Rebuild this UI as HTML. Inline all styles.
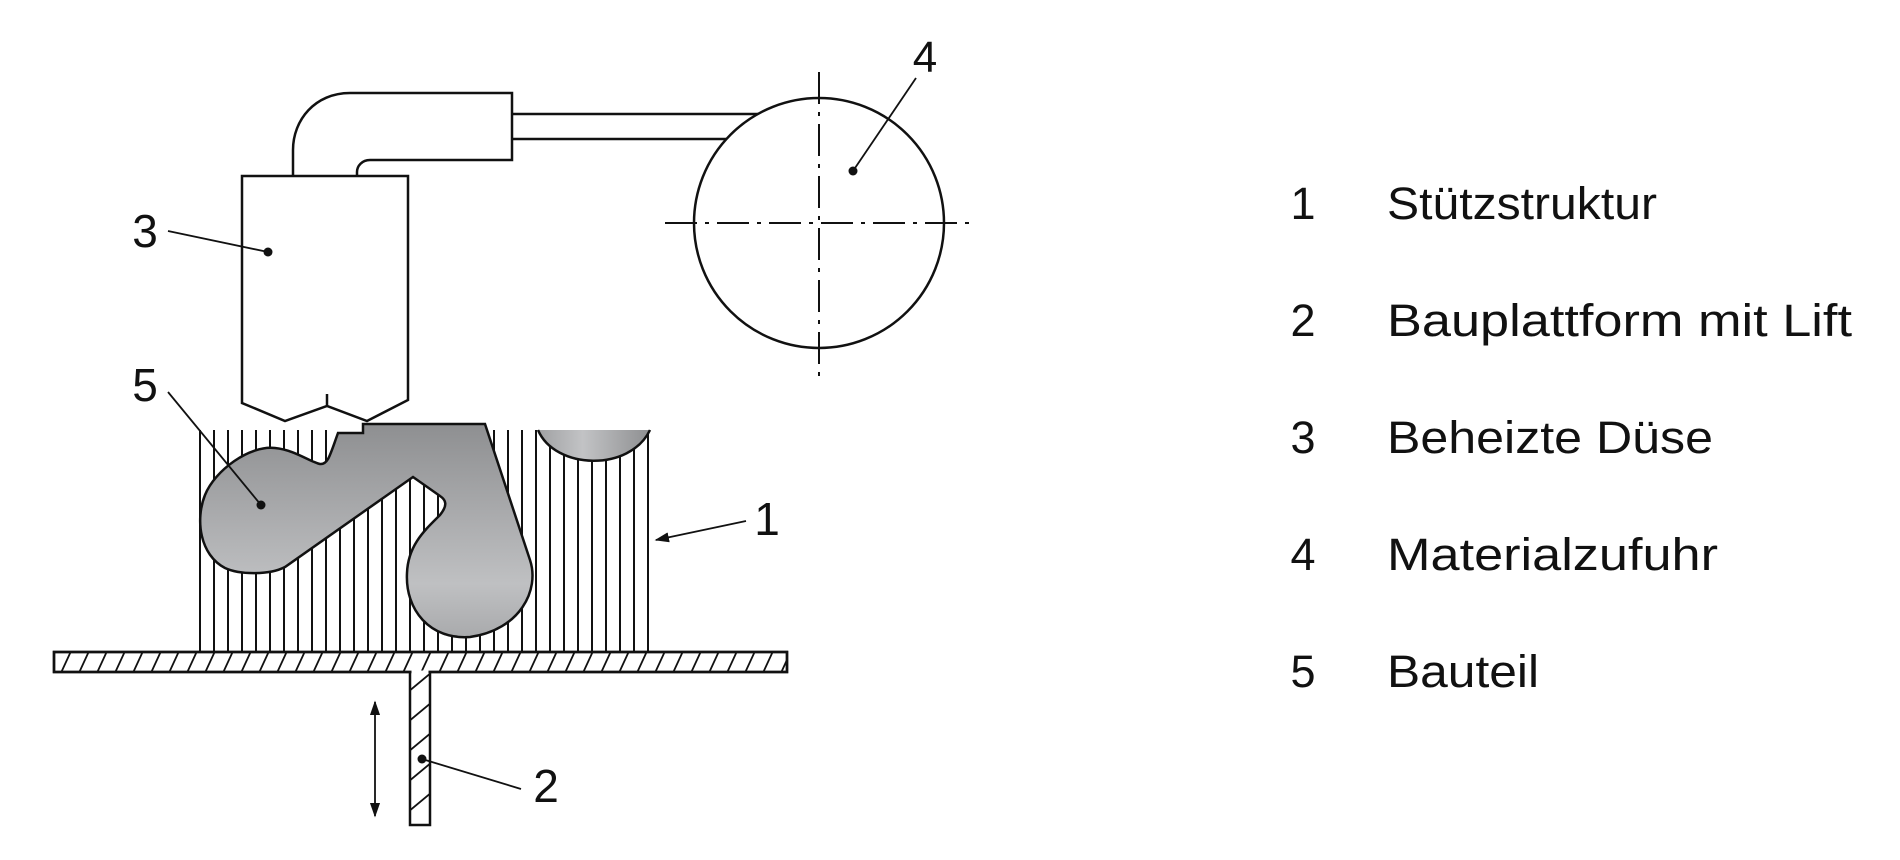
<!DOCTYPE html>
<html><head><meta charset="utf-8"><style>
html,body{margin:0;padding:0;background:#fff;}
svg{display:block;}
text{font-family:"Liberation Sans",sans-serif;fill:#111;}
</style></head><body>
<svg width="1900" height="860" viewBox="0 0 1900 860" xmlns="http://www.w3.org/2000/svg">
<defs>
<linearGradient id="g" x1="0" y1="0" x2="0" y2="1">
<stop offset="0" stop-color="#8e8f91"/><stop offset="0.75" stop-color="#bfc0c2"/><stop offset="1" stop-color="#a9aaac"/>
</linearGradient>
<linearGradient id="g2" x1="0" y1="0" x2="1" y2="0">
<stop offset="0" stop-color="#a0a1a3"/><stop offset="0.4" stop-color="#c2c3c5"/><stop offset="1" stop-color="#8e8f91"/>
</linearGradient>
<clipPath id="pc"><rect x="54" y="652" width="733" height="20"/></clipPath>
<clipPath id="sc"><rect x="410" y="672" width="20" height="153"/></clipPath>
<marker id="ah" viewBox="0 0 10 10" refX="9" refY="5" markerWidth="8" markerHeight="8" orient="auto-start-reverse"><path d="M0,1.5 L10,5 L0,8.5 Z" fill="#111"/></marker>
</defs>
<g stroke="#111" stroke-width="2.5" fill="none">
<g id="bars" stroke-width="2">
<line x1="200" y1="430" x2="200" y2="652"/><line x1="214" y1="430" x2="214" y2="652"/><line x1="228" y1="430" x2="228" y2="652"/><line x1="242" y1="430" x2="242" y2="652"/><line x1="256" y1="430" x2="256" y2="652"/><line x1="270" y1="430" x2="270" y2="652"/><line x1="284" y1="430" x2="284" y2="652"/><line x1="298" y1="430" x2="298" y2="652"/><line x1="312" y1="430" x2="312" y2="652"/><line x1="326" y1="430" x2="326" y2="652"/><line x1="340" y1="430" x2="340" y2="652"/><line x1="354" y1="430" x2="354" y2="652"/><line x1="368" y1="430" x2="368" y2="652"/><line x1="382" y1="430" x2="382" y2="652"/><line x1="396" y1="430" x2="396" y2="652"/><line x1="410" y1="430" x2="410" y2="652"/><line x1="424" y1="430" x2="424" y2="652"/><line x1="438" y1="430" x2="438" y2="652"/><line x1="452" y1="430" x2="452" y2="652"/><line x1="466" y1="430" x2="466" y2="652"/><line x1="480" y1="430" x2="480" y2="652"/><line x1="494" y1="430" x2="494" y2="652"/><line x1="508" y1="430" x2="508" y2="652"/><line x1="522" y1="430" x2="522" y2="652"/><line x1="536" y1="430" x2="536" y2="652"/><line x1="550" y1="430" x2="550" y2="652"/><line x1="564" y1="430" x2="564" y2="652"/><line x1="578" y1="430" x2="578" y2="652"/><line x1="592" y1="430" x2="592" y2="652"/><line x1="606" y1="430" x2="606" y2="652"/><line x1="620" y1="430" x2="620" y2="652"/><line x1="634" y1="430" x2="634" y2="652"/><line x1="648" y1="430" x2="648" y2="652"/>
</g>
<rect x="331" y="420" width="33" height="13" fill="#fff" stroke="none"/>
<path d="M338,433 L363,433 L363,424 L485,424 L530,560 C540,590 520,630 470,637 C430,640 405,610 407,573 C408,545 425,530 440,515 C448,505 446,500 440,496 L413,477 L285,567 C270,575 240,575 225,568 C200,555 195,520 205,495 C215,470 250,445 275,448 C295,450 310,462 320,464 C328,465 330,455 338,433 Z" fill="url(#g)"/>
<path d="M538,430 C555,470 630,472 650,430 Z" fill="url(#g2)" stroke="none"/>
<path d="M538,430 C555,470 630,472 650,430"/>
<rect x="54" y="652" width="733" height="20" fill="#fff"/>
<g clip-path="url(#pc)" stroke-width="1.8">
<path d="M60,675 L72,649 M78,675 L90,649 M96,675 L108,649 M114,675 L126,649 M132,675 L144,649 M150,675 L162,649 M168,675 L180,649 M186,675 L198,649 M204,675 L216,649 M222,675 L234,649 M240,675 L252,649 M258,675 L270,649 M276,675 L288,649 M294,675 L306,649 M312,675 L324,649 M330,675 L342,649 M348,675 L360,649 M366,675 L378,649 M384,675 L396,649 M402,675 L414,649 M420,675 L432,649 M438,675 L450,649 M456,675 L468,649 M474,675 L486,649 M492,675 L504,649 M510,675 L522,649 M528,675 L540,649 M546,675 L558,649 M564,675 L576,649 M582,675 L594,649 M600,675 L612,649 M618,675 L630,649 M636,675 L648,649 M654,675 L666,649 M672,675 L684,649 M690,675 L702,649 M708,675 L720,649 M726,675 L738,649 M744,675 L756,649 M762,675 L774,649 M780,675 L792,649"/>
</g>
<path d="M410,672 L410,825 L430,825 L430,672" fill="#fff"/>
<rect x="54" y="652" width="733" height="20"/>
<line x1="411.5" y1="672" x2="428.5" y2="672" stroke="#fff" stroke-width="3"/>
<g clip-path="url(#sc)" stroke-width="1.8">
<path d="M408,692 L432,672 M408,722 L432,702 M408,752 L432,732 M408,782 L432,762 M408,812 L432,792"/>
</g>
<line x1="375" y1="702" x2="375" y2="816" marker-start="url(#ah)" marker-end="url(#ah)" stroke-width="1.8"/>
<path d="M242,176 L408,176 L408,400 L367,421 L327,406 L285,421 L242,403 Z" fill="#fff"/>
<line x1="327" y1="394" x2="327" y2="406"/>
<path d="M293,176 L293,150 C293,120 315,93 350,93 L512,93 L512,160 L370,160 C362,160 357,166 357,172 L357,176"/>
<path d="M512,114 L758,114 M512,139 L726,139"/>
<circle cx="819" cy="223" r="125" fill="none"/>
<g stroke-width="2">
<line x1="819" y1="72" x2="819" y2="377" stroke-dasharray="32,8,4,8"/>
<line x1="665" y1="223" x2="970" y2="223" stroke-dasharray="32,8,4,8"/>
</g>
<g stroke-width="1.8">
<line x1="168" y1="231" x2="268" y2="252"/>
<line x1="168" y1="392" x2="261" y2="505"/>
<line x1="916" y1="78" x2="853" y2="171"/>
<line x1="746" y1="521" x2="656" y2="540" marker-end="url(#ah)"/>
<line x1="521" y1="789" x2="422" y2="759"/>
</g>
</g>
<g fill="#111">
<circle cx="268" cy="252" r="4.5"/><circle cx="261" cy="505" r="4.5"/><circle cx="853" cy="171" r="4.5"/><circle cx="422" cy="759" r="4.5"/>
</g>
<g font-size="46">
<text x="145" y="247" text-anchor="middle">3</text>
<text x="145" y="401" text-anchor="middle">5</text>
<text x="925" y="72" text-anchor="middle" font-size="44">4</text>
<text x="767" y="535" text-anchor="middle">1</text>
<text x="546" y="802" text-anchor="middle">2</text>
</g>
<g font-size="45">
<text x="1303" y="219" text-anchor="middle">1</text>
<text x="1303" y="336" text-anchor="middle">2</text>
<text x="1303" y="453" text-anchor="middle">3</text>
<text x="1303" y="570" text-anchor="middle">4</text>
<text x="1303" y="687" text-anchor="middle">5</text>
<text x="1387" y="219" textLength="270" lengthAdjust="spacingAndGlyphs">Stützstruktur</text>
<text x="1387" y="336" textLength="465" lengthAdjust="spacingAndGlyphs">Bauplattform mit Lift</text>
<text x="1387" y="453" textLength="326" lengthAdjust="spacingAndGlyphs">Beheizte Düse</text>
<text x="1387" y="570" textLength="331" lengthAdjust="spacingAndGlyphs">Materialzufuhr</text>
<text x="1387" y="687" textLength="152" lengthAdjust="spacingAndGlyphs">Bauteil</text>
</g>
</svg>
</body></html>
